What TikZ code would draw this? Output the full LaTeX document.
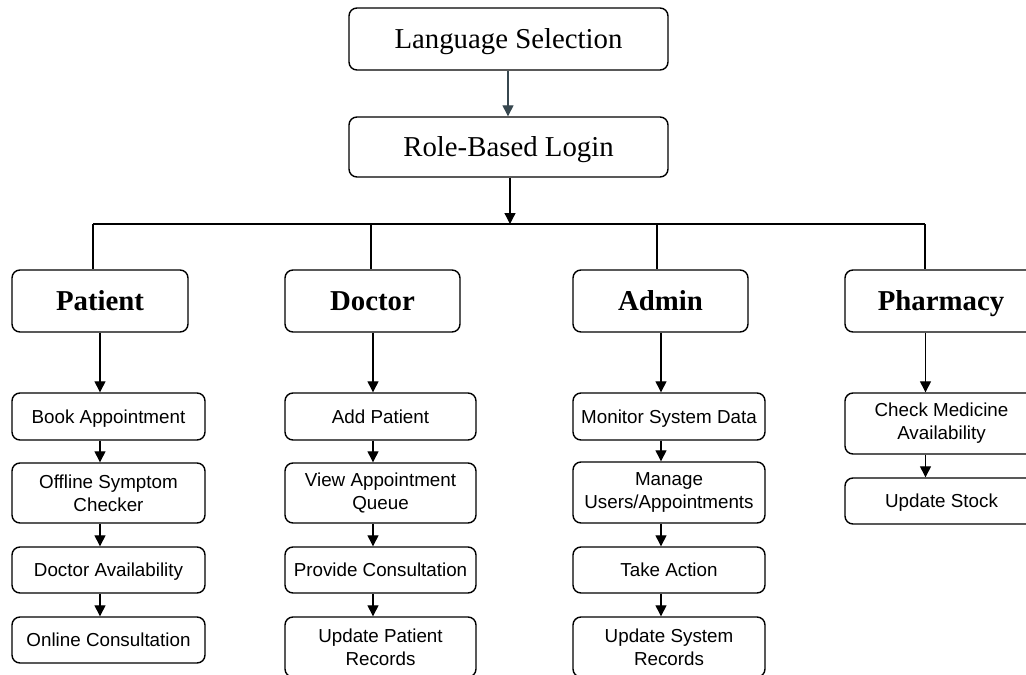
\documentclass[tikz,border=0pt]{standalone}
\usepackage{fontspec}
\setmainfont{Liberation Serif}
\newfontfamily\arialfont{Liberation Sans}
\usetikzlibrary{arrows.meta,calc}
\definecolor{slate}{RGB}{55,71,79}
\begin{document}
\begin{tikzpicture}[x=1pt,y=-1pt,
  box/.style={draw=black,line width=1.4pt,rounded corners=8pt,fill=white,inner sep=0pt,align=center},
  topbox/.style={box,minimum width=319pt,font=\fontsize{28.8}{34}\selectfont,text height=19pt,text depth=0pt},
  rolebox/.style={box,minimum height=62pt,font=\fontsize{28.8}{34}\selectfont\bfseries,text height=19.3pt,text depth=0pt},
  stepbox/.style={box,font=\arialfont\fontsize{18.8}{23}\selectfont},
  oneline/.style={text height=13.5pt,text depth=0pt},
  conn/.style={line width=1.3pt,black},
  arr/.style={conn,-{Triangle[length=11pt,width=11pt]}}]
\path[use as bounding box] (0,0) rectangle (1026,675);
\clip (0,0) rectangle (1026,675);
\fill[white] (0,0) rectangle (1026,675);

% top
\node[topbox,minimum height=62pt] (lang) at (508.5,39) {Language Selection};
\node[topbox,minimum height=60pt] (login) at (508.5,147) {Role-Based Login};

% roles
\node[rolebox,minimum width=176pt] (patient) at (100,301) {Patient};
\node[rolebox,minimum width=175pt] (doctor) at (372.5,301) {Doctor};
\node[rolebox,minimum width=175pt] (admin) at (660.5,301) {Admin};
\node[rolebox,minimum width=192pt] (pharm) at (941,301) {Pharmacy};

% patient steps
\begin{scope}[every node/.style={stepbox,minimum width=193pt}]
\node[oneline,minimum height=47pt] (p1) at (108.5,416.5) {Book Appointment};
\node[minimum height=60pt] (p2) at (108.5,493) {Offline Symptom\\Checker};
\node[oneline,minimum height=46pt] (p3) at (108.5,570) {Doctor Availability};
\node[oneline,minimum height=46pt] (p4) at (108.5,640) {Online Consultation};
\end{scope}
% doctor steps
\begin{scope}[every node/.style={stepbox,minimum width=191pt}]
\node[oneline,minimum height=47pt] (d1) at (380.5,416.5) {Add Patient};
\node[minimum height=60pt] (d2) at (380.5,493) {View Appointment\\Queue};
\node[oneline,minimum height=46pt] (d3) at (380.5,570) {Provide Consultation};
\node[minimum height=60pt] (d4) at (380.5,647) {Update Patient\\Records};
\end{scope}
% admin steps
\begin{scope}[every node/.style={stepbox,minimum width=192pt}]
\node[oneline,minimum height=47pt] (a1) at (669,416.5) {Monitor System Data};
\node[minimum height=61pt] (a2) at (669,492.5) {Manage\\Users/Appointments};
\node[oneline,minimum height=46pt] (a3) at (669,570) {Take Action};
\node[minimum height=60pt] (a4) at (669,647) {Update System\\Records};
\end{scope}
% pharmacy steps
\begin{scope}[every node/.style={stepbox,minimum width=193pt}]
\node[minimum height=61pt] (h1) at (941.5,423.5) {Check Medicine\\Availability};
\node[oneline,minimum height=46pt] (h2) at (941.5,501) {Update Stock};
\end{scope}

% top connectors
\draw[arr,slate] (lang.south -| 508,0) -- (login.north -| 508,0);
\coordinate (bus) at (510,224);
\draw[arr] (login.south -| bus) -- (bus);

% bus
\coordinate (b1) at (93,224);
\coordinate (b2) at (371,224);
\coordinate (b3) at (657,224);
\coordinate (b4) at (925,224);
\draw[conn] (b1) -- (b4);
\draw[conn] (b1) -- (patient.north -| b1);
\draw[conn] (b2) -- (doctor.north -| b2);
\draw[conn] (b3) -- (admin.north -| b3);
\draw[conn] (b4) -- (pharm.north -| b4);

% column x positions
\coordinate (cp) at (100,0);
\coordinate (cd) at (373,0);
\coordinate (ca) at (661,0);
\coordinate (ch) at (925.5,0);

\draw[arr] (patient.south -| cp) -- (p1.north -| cp);
\draw[arr] (p1.south -| cp) -- (p2.north -| cp);
\draw[arr] (p2.south -| cp) -- (p3.north -| cp);
\draw[arr] (p3.south -| cp) -- (p4.north -| cp);

\draw[arr] (doctor.south -| cd) -- (d1.north -| cd);
\draw[arr] (d1.south -| cd) -- (d2.north -| cd);
\draw[arr] (d2.south -| cd) -- (d3.north -| cd);
\draw[arr] (d3.south -| cd) -- (d4.north -| cd);

\draw[arr] (admin.south -| ca) -- (a1.north -| ca);
\draw[arr] (a1.south -| ca) -- (a2.north -| ca);
\draw[arr] (a2.south -| ca) -- (a3.north -| ca);
\draw[arr] (a3.south -| ca) -- (a4.north -| ca);

\draw[arr] (pharm.south -| ch) -- (h1.north -| ch);
\draw[arr] (h1.south -| ch) -- (h2.north -| ch);
\end{tikzpicture}
\end{document}
